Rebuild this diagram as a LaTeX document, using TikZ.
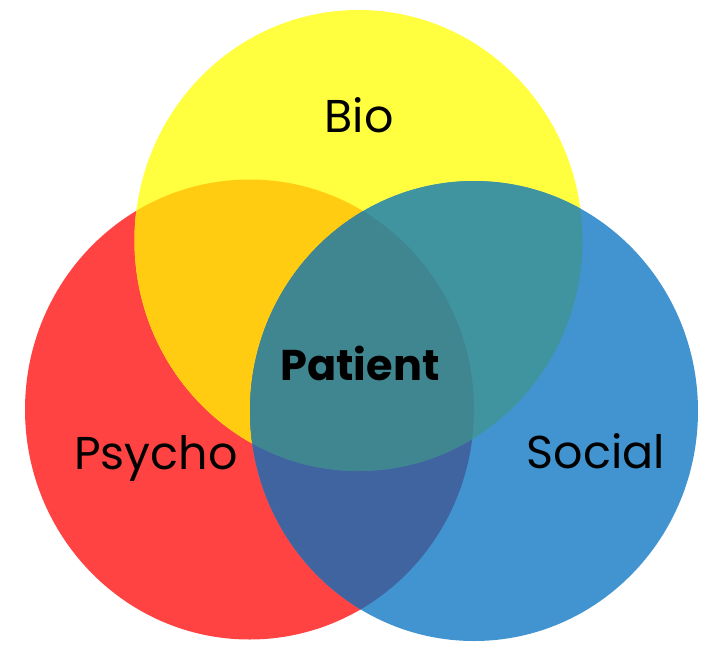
\documentclass[tikz,border=0pt]{standalone}
\usepackage{fontspec}
\setmainfont{Poppins}
\definecolor{cY}{HTML}{FFFF40}
\definecolor{cR}{HTML}{FF4343}
\definecolor{cB}{HTML}{4294D0}
\definecolor{cRY}{HTML}{FFCC12}
\definecolor{cYB}{HTML}{4094A0}
\definecolor{cRB}{HTML}{4064A0}
\definecolor{cC}{HTML}{408690}
\begin{document}
\begin{tikzpicture}[x=1pt,y=-1pt,
  lbl/.style={font=\fontsize{46}{46}\selectfont, text=black, inner sep=0pt, anchor=base}]
\useasboundingbox (0,0) rectangle (705,649);
\def\Yel{(358.5,240.5) ellipse [x radius=224, y radius=230.5]}
\def\Red{(249.5,409.5) ellipse [x radius=224.5, y radius=230]}
\def\Blu{(474,411) ellipse [x radius=224, y radius=230]}
\fill[cR] \Red;
\fill[cY] \Yel;
\fill[cB] \Blu;
\begin{scope}\clip \Red; \fill[cRY] \Yel; \fill[cRB] \Blu; \end{scope}
\begin{scope}\clip \Yel; \fill[cYB] \Blu; \end{scope}
\begin{scope}\clip \Red; \clip \Yel; \fill[cC] \Blu; \end{scope}
\node[lbl] (bio) at (359,132) {Bio};
\node[lbl] (psy) at (156,469) {Psycho};
\node[lbl] (soc) at (596,468) {Social};
\node[lbl, font=\fontsize{43}{43}\selectfont\bfseries] (pat) at (360,380) {Patient};
\end{tikzpicture}
\end{document}
